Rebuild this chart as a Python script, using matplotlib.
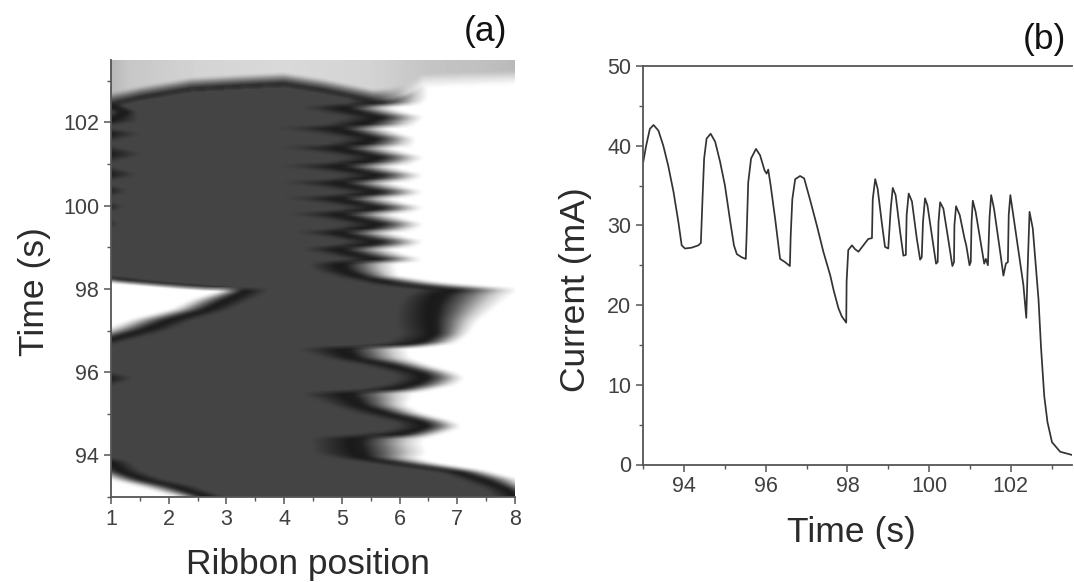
import numpy as np
import matplotlib
matplotlib.use("Agg")
import matplotlib.pyplot as plt
from matplotlib.ticker import MultipleLocator

plt.rcParams['font.family'] = ['Liberation Sans', 'DejaVu Sans']

# ---------- panel (b): current trace
time_s = [93.00,93.07,93.16,93.25,93.37,93.49,93.61,93.74,93.86,93.94,94.02,94.18,94.35,94.41,94.45,94.49,94.55,94.65,94.76,94.88,95.00,95.12,95.22,95.29,95.41,95.51,95.53,95.57,95.64,95.76,95.86,95.97,96.02,96.06,96.12,96.23,96.35,96.47,96.59,96.61,96.65,96.72,96.84,96.94,97.08,97.25,97.41,97.58,97.66,97.78,97.86,97.97,97.98,98.02,98.11,98.19,98.27,98.39,98.51,98.60,98.62,98.68,98.74,98.84,98.92,99.00,99.06,99.11,99.18,99.29,99.37,99.43,99.45,99.50,99.58,99.70,99.78,99.82,99.85,99.90,99.96,100.08,100.17,100.21,100.23,100.27,100.35,100.48,100.57,100.61,100.62,100.66,100.75,100.87,100.91,100.99,101.02,101.04,101.07,101.14,101.29,101.35,101.39,101.44,101.48,101.52,101.59,101.74,101.82,101.88,101.93,101.95,101.99,102.05,102.19,102.31,102.38,102.41,102.46,102.54,102.64,102.68,102.74,102.82,102.90,103.01,103.21,103.50]
current_mA = [38.0,40.0,42.1,42.6,41.9,40.0,37.5,34.2,30.4,27.5,27.1,27.2,27.5,27.8,33.3,38.4,40.9,41.5,40.5,38.0,35.0,30.8,27.5,26.4,26.0,25.8,28.7,35.4,38.4,39.6,38.8,36.9,36.5,37.0,35.0,30.8,25.8,25.4,24.9,28.7,33.3,35.8,36.2,35.9,33.3,30.0,26.7,23.7,21.9,19.6,18.6,17.8,23.0,26.9,27.5,27.0,26.7,27.5,28.3,28.4,33.3,35.8,34.6,30.4,27.3,27.1,32.1,34.7,33.8,29.2,26.2,26.3,31.3,34.0,33.0,28.3,25.7,26.0,30.4,33.4,32.5,28.3,25.2,25.4,30.4,32.9,32.1,27.9,24.9,25.4,30.0,32.4,31.3,28.3,27.5,25.0,25.4,30.4,33.1,31.7,27.1,25.2,25.8,25.0,31.0,33.8,32.1,26.7,23.7,25.2,25.4,31.3,33.8,31.7,26.7,22.5,18.4,24.0,31.7,29.6,23.3,20.7,14.8,8.6,5.3,2.8,1.6,1.2]

# ---------- panel (a): front positions
right_t = [93.0,93.2,93.41,93.61,93.81,93.93,94.05,94.3,94.42,94.45,94.57,94.69,94.81,95.01,95.2,95.46,95.5,95.56,95.7,95.86,95.98,96.18,96.34,96.54,96.58,96.62,96.7,96.9,97.26,97.58,97.86,97.99,98.0,98.13,98.3,98.46,98.62,
           98.66,98.7,98.84,98.98,99.01,99.14,99.26,99.38,99.41,99.56,99.7,99.82,99.85,99.96,100.08,100.2,100.23,100.34,100.46,100.58,100.61,100.74,100.86,100.98,101.01,101.17,101.3,101.42,101.45,101.62,101.76,101.89,101.92,102.14,102.26,102.38,102.46,102.6,103.5]
right_dark = [7.5,7.3,6.9,6.5,5.4,4.7,4.2,4.2,4.15,4.25,5.5,5.8,5.7,5.0,4.6,4.0,4.0,4.9,5.6,5.8,5.7,5.1,4.5,3.9,3.9,4.9,5.5,5.8,5.7,5.75,5.9,6.1,6.1,5.3,4.7,4.3,4.2,
              4.5,4.9,4.5,3.95,4.3,4.9,4.5,3.83,4.3,4.9,4.4,3.6,4.3,4.9,4.4,3.48,4.3,4.9,4.3,3.37,4.3,4.9,4.3,3.31,4.3,4.9,4.3,3.31,4.3,4.85,4.3,3.25,4.3,4.9,4.4,3.9,4.9,4.9,4.9]
right_black = [8.0,7.8,7.4,6.94,5.84,5.3,5.2,5.12,5.18,5.84,6.2,6.42,6.3,5.7,5.25,5.0,5.0,5.8,6.2,6.42,6.3,5.75,5.1,4.95,4.95,5.9,6.3,6.55,6.5,6.5,6.6,6.9,6.65,5.84,5.26,4.95,4.9,
               5.2,5.65,5.15,4.8,5.2,5.65,5.15,4.8,5.2,5.65,5.15,4.8,5.2,5.65,5.15,4.8,5.2,5.65,5.15,4.8,5.2,5.65,5.15,4.8,5.2,5.65,5.15,4.8,5.2,5.55,5.1,4.8,5.2,5.65,5.2,4.9,5.6,5.6,5.6]
right_white = [8.5,8.3,8.1,7.55,6.65,6.35,6.5,6.4,6.5,6.6,6.9,7.1,6.95,6.4,6.15,6.25,6.25,6.55,7.0,7.15,7.0,6.5,6.2,6.15,6.15,6.6,7.0,7.2,7.4,7.7,7.95,8.1,8.1,6.9,6.0,5.95,5.95,
               6.25,6.45,6.1,5.85,6.25,6.45,6.1,5.85,6.25,6.45,6.1,5.85,6.25,6.45,6.1,5.85,6.25,6.45,6.1,5.85,6.25,6.45,6.1,5.85,6.25,6.45,6.1,5.85,6.25,6.3,6.0,5.75,6.25,6.45,6.1,5.85,6.4,6.5,6.5]

left_t = [93.0,93.24,93.4,93.6,93.85,93.95,95.6,95.85,96.05,96.6,96.78,97.02,97.26,97.5,97.74,97.94,97.99,98.0,98.03,98.1,98.18,98.26,98.3,
          99.0,99.18,99.38,99.58,99.78,99.98,100.18,100.36,100.56,100.76,101.0,101.25,101.5,101.74,101.9,102.05,102.26,102.42,103.5]
left_white = [2.1,1.45,1.0,0.6,0.3,0.0,0.0,0.0,0.0,0.0,0.3,0.85,1.3,2.0,2.36,2.85,2.85,2.5,2.1,1.5,0.8,0.5,0.0,
              0.0,0.0,0.0,0.0,0.0,0.0,0.0,0.0,0.0,0.0,0.0,0.0,0.0,0.0,0.0,0.0,0.5,0.0,0.0]
left_black = [2.66,2.14,1.6,1.2,1.0,0.5,0.5,1.0,0.5,0.5,1.0,1.65,2.08,2.7,3.06,3.35,3.35,3.0,2.66,2.0,1.4,1.0,0.5,
              0.5,0.8,0.5,0.85,0.5,0.9,0.5,0.95,0.5,1.0,0.5,1.0,0.5,1.0,0.5,1.0,1.3,1.0,0.5]
left_dark = [3.1,2.6,2.1,1.7,1.45,1.0,1.0,1.6,1.0,1.0,1.5,2.2,2.6,3.2,3.6,3.9,3.9,3.4,3.2,2.5,1.9,1.4,1.0,
             1.0,1.2,1.0,1.3,1.0,1.4,1.0,1.5,1.0,1.7,1.0,1.85,1.0,1.8,1.0,1.7,1.5,1.3,1.0]

top_x = [1.0,1.52,2.38,3.25,4.0,4.68,5.55,5.84,6.13,6.42,8.0]
top_t = [102.42,102.58,102.78,102.85,102.9,102.75,102.5,102.54,102.66,102.88,102.95]
top_edge = [0.12,0.1,0.1,0.1,0.1,0.1,0.12,0.45,0.82,0.96,0.97]
top_gray_x = [1.0,1.3,2.5,4.0,5.5,6.5,7.2,8.0]
top_gray = [0.72,0.78,0.83,0.85,0.83,0.77,0.76,0.73]

yticks_a = [94, 96, 98, 100, 102]
xticks_a = [1, 2, 3, 4, 5, 6, 7, 8]
xticks_b = [94, 96, 98, 100, 102]
yticks_b = [0, 10, 20, 30, 40, 50]

# ---------- build the grey field of panel (a)
xs = np.linspace(1, 8, 404)
ts = np.linspace(93, 103.5, 437)
field = np.zeros((ts.size, xs.size))
V_nodes = [0, 0.15, 0.5, 0.58, 0.72, 0.88, 1.0]
G_nodes = [0.27, 0.27, 0.10, 0.12, 0.40, 0.80, 1.0]
edge_t = np.interp(xs, top_x, top_t)
edge_g = np.interp(xs, top_x, top_edge)
band = np.interp(xs, top_gray_x, top_gray)
for i, t in enumerate(ts):
    rd, rb, rw = (np.interp(t, right_t, a) for a in (right_dark, right_black, right_white))
    lw, lb, ld = (np.interp(t, left_t, a) for a in (left_white, left_black, left_dark))
    vr = np.interp(xs, [rd, max(rb, rd + 1e-3), max(rw, rb + 2e-3)], [0, 0.5, 1])
    vl = np.interp(xs, [lw, max(lb, lw + 1e-3), max(ld, lb + 2e-3)], [1, 0.5, 0])
    field[i] = np.interp(np.maximum(vr, vl), V_nodes, G_nodes)
    frac = np.clip((t - edge_t) / 0.3, 0, 1) ** 1.3
    above = t >= edge_t
    field[i][above] = (edge_g + (band - edge_g) * frac)[above]

# soften like the scanned original (edge-padded box blur)
kernel = np.ones(5) / 5
padded = np.pad(field, 2, mode='edge')
padded = np.apply_along_axis(lambda r: np.convolve(r, kernel, mode='same'), 0, padded)
padded = np.apply_along_axis(lambda r: np.convolve(r, kernel, mode='same'), 1, padded)
field = padded[2:-2, 2:-2]

W, H = 1074, 582
fig = plt.figure(figsize=(W / 100, H / 100), dpi=100)
ink = '#2b2b2b'
tick_ink = '#404040'
axis_col = '#555555'

# ---------- panel (a)
ax1 = fig.add_axes([111 / W, 1 - 497 / H, 404 / W, 437 / H])
ax1.imshow(field, origin='lower', extent=[1, 8, 93, 103.5], aspect='auto',
           cmap='gray', vmin=0, vmax=1, interpolation='bilinear')
ax1.set_xlim(1, 8)
ax1.set_ylim(93, 103.5)
ax1.set_xticks(xticks_a)
ax1.set_yticks(yticks_a)
ax1.xaxis.set_minor_locator(MultipleLocator(0.5))
ax1.yaxis.set_minor_locator(MultipleLocator(1))
ax1.spines['top'].set_visible(False)
ax1.spines['right'].set_visible(False)
ax1.set_xlabel('Ribbon position', fontsize=25.5, color=ink)
ax1.set_ylabel('Time (s)', fontsize=25.5, color=ink)
ax1.xaxis.set_label_coords(307.5 / W, 1 - 548 / H, transform=fig.transFigure)
ax1.yaxis.set_label_coords(51 / W, 1 - 292 / H, transform=fig.transFigure)

# ---------- panel (b)
ax2 = fig.add_axes([643.3 / W, 1 - 464.5 / H, 428.7 / W, 398.5 / H])
ax2.plot(time_s, current_mA, color='#333333', lw=1.25, solid_joinstyle='round')
ax2.set_xlim(93, 103.5)
ax2.set_ylim(0, 50)
ax2.set_xticks(xticks_b)
ax2.set_yticks(yticks_b)
ax2.xaxis.set_minor_locator(MultipleLocator(1))
ax2.yaxis.set_minor_locator(MultipleLocator(5))
ax2.spines['right'].set_visible(False)
ax2.set_xlabel('Time (s)', fontsize=25.5, color=ink)
ax2.set_ylabel('Current (mA)', fontsize=25.5, color=ink)
ax2.xaxis.set_label_coords(851 / W, 1 - 516 / H, transform=fig.transFigure)
ax2.yaxis.set_label_coords(592 / W, 1 - 290 / H, transform=fig.transFigure)

for ax in (ax1, ax2):
    for s in ax.spines.values():
        s.set_color(axis_col)
        s.set_linewidth(1.3)
    ax.tick_params(which='major', length=5, width=1.1, color=axis_col,
                   labelsize=15.5, labelcolor=tick_ink, pad=3.5)
    ax.tick_params(which='minor', length=3, width=1.0, color=axis_col)

fig.text(485 / W, 1 - 32 / H, '(a)', fontsize=25.5, color='#111111', ha='center', va='center')
fig.text(1044 / W, 1 - 39 / H, '(b)', fontsize=25.5, color='#111111', ha='center', va='center')

fig.savefig('out.png', dpi=100, facecolor='white')
